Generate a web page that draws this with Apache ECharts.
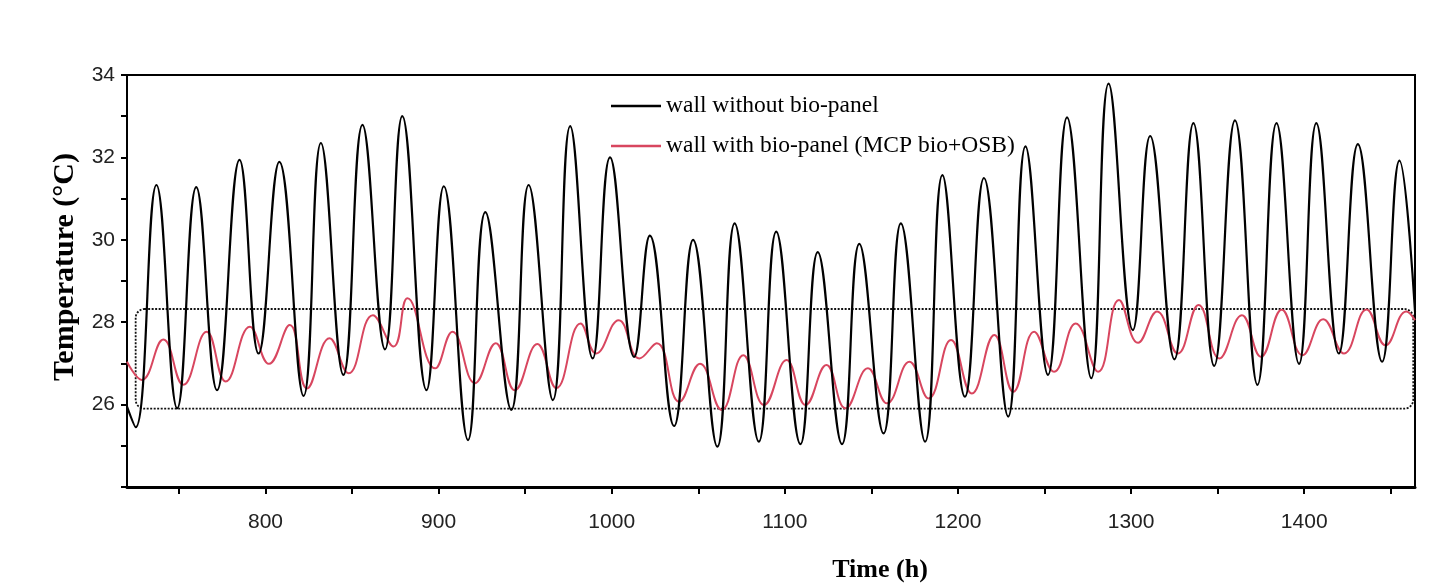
<!DOCTYPE html>
<html>
<head>
<meta charset="utf-8">
<script src="https://cdn.jsdelivr.net/npm/echarts@6/dist/echarts.min.js"></script>
<style>
  html, body { margin: 0; padding: 0; background: #fff; }
  #chart { width: 1446px; height: 585px; }
</style>
</head>
<body>
<div id="chart"></div>
<script>
// wall without bio-panel: daily peaks and troughs
var blackTime = [720, 725, 737, 749, 760, 772, 785, 796, 808, 822, 832, 845, 856, 869, 879, 893,
  903, 917, 927, 942, 952, 966, 976, 989, 999, 1013, 1022, 1036, 1047, 1061, 1071, 1085,
  1095, 1109, 1119, 1133, 1143, 1157, 1167, 1181, 1191, 1204, 1215, 1229, 1239, 1252, 1263, 1277,
  1287, 1301, 1311, 1325, 1336, 1348, 1360, 1373, 1384, 1397, 1407, 1420, 1431, 1445, 1455, 1464]
var blackTemp = [25.95, 25.45, 31.33, 25.91, 31.28, 26.35, 31.94, 27.24, 31.89, 26.21, 32.35, 26.72, 32.79, 27.34, 33.0, 26.35,
  31.3, 25.14, 30.67, 25.87, 31.33, 26.11, 32.76, 27.12, 32.0, 27.16, 30.1, 25.48, 30.0, 24.98, 30.4, 25.1,
  30.2, 25.04, 29.7, 25.04, 29.9, 25.3, 30.4, 25.1, 31.57, 26.19, 31.5, 25.71, 32.27, 26.72, 32.97, 26.64,
  33.79, 27.81, 32.52, 27.1, 32.83, 26.94, 32.9, 26.48, 32.83, 26.99, 32.83, 27.24, 32.32, 27.04, 31.92, 28.26]

// wall with bio-panel (MCP bio+OSB)
var redTime = [720, 728.5, 741, 752.5, 766, 777, 791, 802, 814, 824, 837, 848, 862, 874, 882, 898,
  908, 921, 933, 944, 957, 968, 982, 991, 1004, 1016, 1026, 1039, 1051, 1063.5, 1076, 1088,
  1101, 1112, 1124, 1135, 1148, 1159, 1172, 1183, 1196, 1208, 1221, 1232, 1244, 1255.5, 1268, 1281,
  1293, 1304, 1315, 1327, 1339, 1351, 1364, 1375, 1387, 1399, 1411, 1423, 1436, 1447, 1459, 1464]
var redTemp = [27.04, 26.6, 27.58, 26.48, 27.77, 26.56, 27.89, 26.99, 27.93, 26.39, 27.61, 26.76, 28.17, 27.41, 28.58, 26.88,
  27.77, 26.52, 27.49, 26.35, 27.47, 26.4, 27.97, 27.24, 28.05, 27.12, 27.49, 26.07, 26.99, 25.87, 27.2, 25.99,
  27.08, 25.99, 26.96, 25.91, 26.88, 26.03, 27.04, 26.15, 27.57, 26.27, 27.69, 26.31, 27.77, 26.8, 27.97, 26.8,
  28.54, 27.5, 28.26, 27.24, 28.42, 27.12, 28.17, 27.16, 28.3, 27.2, 28.07, 27.24, 28.31, 27.44, 28.26, 28.05]

// dotted comfort band
var bandTime = [725, 1463]
var bandTemp = [28.32, 25.9]

var seriesNames = ['wall without bio-panel', 'wall with bio-panel (MCP bio+OSB)']

function pairs(xs, ys) {
  return xs.map(function (x, i) { return [x, ys[i]] })
}

var tickFont = '"Liberation Sans", Arial, sans-serif'
var serifFont = '"Liberation Serif", "DejaVu Serif", serif'

var chart = echarts.init(document.getElementById('chart'), null, { renderer: 'canvas' })
chart.setOption({
  animation: false,
  backgroundColor: '#fff',
  grid: {
    left: 127, right: 31, top: 75, bottom: 98,
    outerBoundsMode: 'none',
    show: true, borderColor: '#000', borderWidth: 2
  },
  legend: {
    data: seriesNames,
    icon: 'rect',
    orient: 'vertical',
    left: 606, top: 89,
    itemWidth: 50, itemHeight: 2.5, itemGap: 16,
    textStyle: { fontFamily: serifFont, fontSize: 23.5, color: '#000' }
  },
  xAxis: {
    type: 'value',
    min: 720, max: 1464,
    splitNumber: 15, minInterval: 50, maxInterval: 50,
    name: 'Time (h)',
    nameLocation: 'middle',
    nameGap: 70,
    nameTextStyle: { fontFamily: serifFont, fontWeight: 'bold', fontSize: 26, color: '#000', padding: [0, 0, 0, 218] },
    axisLine: { lineStyle: { color: '#000', width: 3 } },
    axisTick: { length: 7, lineStyle: { color: '#000', width: 2 } },
    axisLabel: {
      margin: 25, fontFamily: tickFont, fontSize: 21, color: '#222',
      showMinLabel: false, showMaxLabel: false,
      formatter: function (v) { return v % 100 === 0 ? String(v) : '' }
    },
    splitLine: { show: false }
  },
  yAxis: {
    type: 'value',
    min: 24, max: 34, interval: 2,
    name: 'Temperature (°C)',
    nameLocation: 'middle',
    nameRotate: 90,
    nameGap: 46,
    nameTextStyle: { fontFamily: serifFont, fontWeight: 'bold', fontSize: 30, color: '#000', padding: [0, 0, 0, 28] },
    axisLine: { show: true, lineStyle: { color: '#000', width: 2 } },
    axisTick: { length: 6, lineStyle: { color: '#000', width: 2 } },
    minorTick: { show: true, splitNumber: 2, length: 6, lineStyle: { color: '#000', width: 2 } },
    axisLabel: {
      margin: 12, fontFamily: tickFont, fontSize: 21, color: '#222',
      formatter: function (v) { return v === 24 ? '' : String(v) }
    },
    splitLine: { show: false }
  },
  series: [
    {
      name: 'band',
      type: 'custom',
      silent: true,
      z: 1,
      data: [[bandTime[0], bandTemp[0], bandTime[1], bandTemp[1]]],
      encode: { x: [0, 2], y: [1, 3] },
      renderItem: function (params, api) {
        var p1 = api.coord([api.value(0), api.value(1)])
        var p2 = api.coord([api.value(2), api.value(3)])
        return {
          type: 'rect',
          shape: { x: p1[0], y: p1[1], width: p2[0] - p1[0], height: p2[1] - p1[1], r: 9 },
          style: { fill: null, stroke: '#111', lineWidth: 1.8, lineDash: [2, 1.5] }
        }
      }
    },
    {
      name: seriesNames[0],
      type: 'line',
      z: 3,
      smooth: 0.45,
      symbol: 'none',
      lineStyle: { color: '#000', width: 2.2 },
      itemStyle: { color: '#000' },
      data: pairs(blackTime, blackTemp)
    },
    {
      name: seriesNames[1],
      type: 'line',
      z: 2,
      smooth: 0.45,
      symbol: 'none',
      lineStyle: { color: '#d8465f', width: 2 },
      itemStyle: { color: '#d8465f' },
      data: pairs(redTime, redTemp)
    }
  ]
})
</script>
</body>
</html>
